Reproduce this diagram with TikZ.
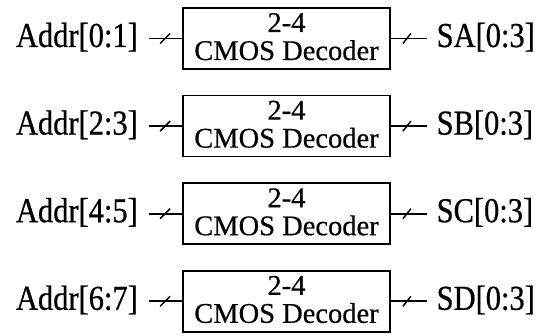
\documentclass[tikz,border=0pt]{standalone}
\usepackage{fontspec}
\setmainfont[FakeBold=0.5]{Liberation Serif}
\newfontfamily\labfont[FakeStretch=0.87,FakeBold=0.6]{Liberation Serif}
\usetikzlibrary{calc}
\begin{document}
\begin{tikzpicture}[x=1pt,y=-1pt,
  decbox/.style={draw,line width=1.8pt,minimum width=207pt,minimum height=61pt,inner sep=0pt},
  boxtxt/.style={font=\fontsize{28.5}{28.5}\selectfont,inner sep=0pt},
  labtxt/.style={font=\labfont\fontsize{35}{35}\selectfont,inner sep=0pt},
  wire/.style={line width=1.8pt},
  busmark/.style={line width=1.5pt}]
\useasboundingbox (0,0) rectangle (540,336);
\foreach \i/\inp/\outp [evaluate=\i as \yc using 38.5+87.6*\i] in {0/{Addr[0:1]}/{SA[0:3]},1/{Addr[2:3]}/{SB[0:3]},2/{Addr[4:5]}/{SC[0:3]},3/{Addr[6:7]}/{SD[0:3]}}{
  \node[decbox] (b\i) at (286.5,\yc) {};
  \node[boxtxt,anchor=base] (t\i) at (286.5,\yc-6.5) {2-4};
  \node[boxtxt,anchor=base] (c\i) at (286.5,\yc+21.5) {CMOS Decoder};
  \node[labtxt,anchor=base east] (in\i) at (138,\yc+8.5) {\inp};
  \node[labtxt,anchor=base west] (out\i) at (436.5,\yc+8.5) {\outp};
  \coordinate (ls\i) at ($(b\i.west -| in\i.east)+(11,0)$);
  \coordinate (re\i) at ($(b\i.east -| out\i.west)+(-9.5,0)$);
  \draw[wire] (ls\i) -- (b\i.west);
  \draw[wire] (b\i.east) -- (re\i);
  \coordinate (ms\i) at ($(b\i.west)+(-17,0)$);
  \coordinate (mr\i) at ($(b\i.east)+(16,0)$);
  \draw[busmark] ($(ms\i)+(-5,5)$) -- ($(ms\i)+(5,-5)$);
  \draw[busmark] ($(mr\i)+(-4,5)$) -- ($(mr\i)+(4,-5)$);
}
\end{tikzpicture}
\end{document}
